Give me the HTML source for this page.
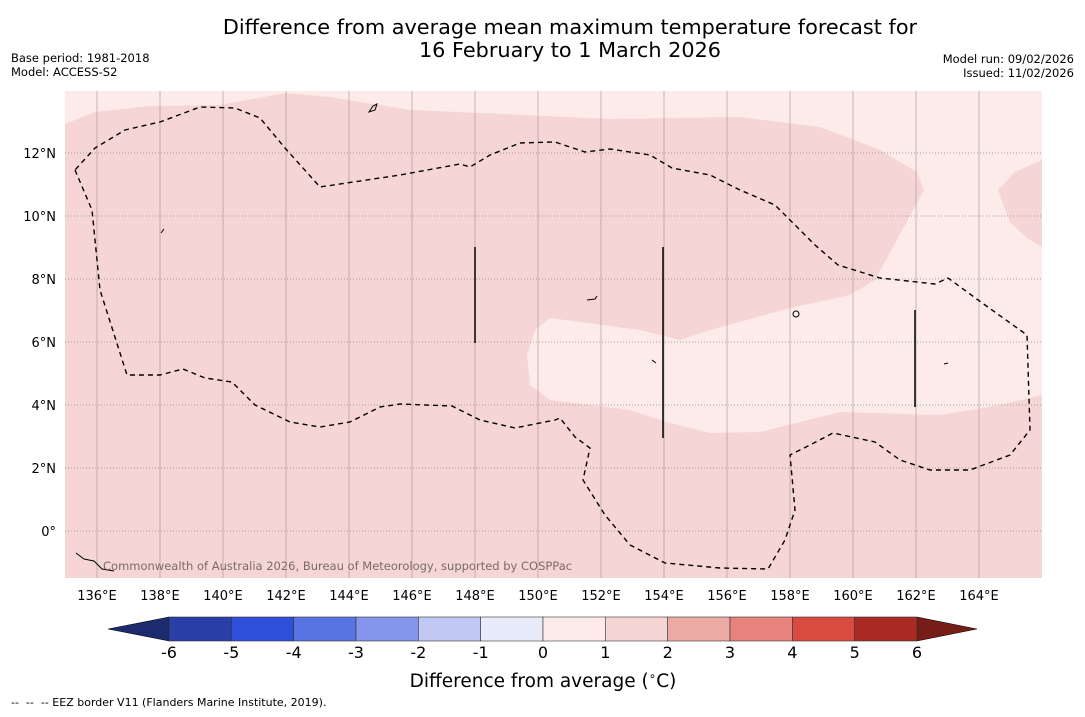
<!DOCTYPE html>
<html><head><meta charset="utf-8"><style>
body{margin:0;background:#fff;width:1085px;height:713px;overflow:hidden;font-family:"DejaVu Sans","Liberation Sans",sans-serif}
</style></head><body>
<svg id="chart" width="1085" height="713" xmlns="http://www.w3.org/2000/svg" font-family="DejaVu Sans, Liberation Sans, sans-serif">
<text x="570" y="34" font-size="20.8" text-anchor="middle">Difference from average mean maximum temperature forecast for</text>
<text x="570" y="57" font-size="20.8" text-anchor="middle">16 February to 1 March 2026</text>
<text x="11" y="62" font-size="11.5">Base period: 1981-2018</text>
<text x="11" y="76" font-size="11.5">Model: ACCESS-S2</text>
<text x="1074" y="63" font-size="11.5" text-anchor="end">Model run: 09/02/2026</text>
<text x="1074" y="77" font-size="11.5" text-anchor="end">Issued: 11/02/2026</text>
<g id="map">
<rect x="65" y="91" width="977" height="487" fill="#f5d6d4"/>
<path fill="#fcebe9" d="M65,124 L95,112 150,106 220,105 285,93 330,97 410,110 480,113 610,119 740,117 820,127 880,150 917,172 924,190 905,225 875,280 850,295 790,308 710,330 680,340 640,330 550,318 535,330 527,355 530,385 550,400 630,410 670,423 710,433 760,432 840,412 940,415 1000,405 1042,395 1042,247 1027,238 1010,222 998,190 1015,172 1042,160 1042,91 65,91Z"/>
<g id="grid"></g>
<path fill="none" stroke="#000" stroke-width="1.4" stroke-dasharray="5,4" d="M75,170 L92,210 100,290 127,375 160,375 183,369 205,378 232,382 255,405 290,422 320,427 350,422 380,407 400,404 452,406 480,420 515,428 555,420 560,418 575,437 590,448 583,480 605,515 630,545 665,563 720,568 768,569 785,540 795,510 790,455 810,445 833,433 875,442 900,460 930,470 970,470 1010,455 1030,430 1027,335 985,305 948,278 935,284 880,278 838,265 815,245 795,225 775,205 740,190 710,175 672,168 650,155 610,149 585,152 555,142 520,143 490,155 470,167 460,164 400,175 320,187 285,148 260,118 235,108 200,107 160,122 125,130 95,148 75,170"/>
<g stroke="#000" stroke-width="1.5">
<line x1="475" y1="247" x2="475" y2="343"/><line x1="663" y1="247" x2="663" y2="438"/><line x1="915" y1="310" x2="915" y2="407"/>
</g>
<g fill="none" stroke="#000" stroke-width="1">
<path d="M369,112 l4,-6 4,-2 -2,6z"/><path d="M161,233 l3,-4"/><path d="M587,300 l8,-1 2,-3"/><path d="M793,314 a3,3 0 1,0 6,0 a3,3 0 1,0 -6,0"/><path d="M944,364 l4,-1"/><path d="M76,553 l8,6 10,2 8,8 12,2"/><path d="M652,360 l4,3"/>
</g>
<text x="103" y="570" font-size="11.5" fill="#7a6a6a">Commonwealth of Australia 2026, Bureau of Meteorology, supported by COSPPac</text>
</g>
<g id="axes"></g>
<g id="colorbar"></g>
<text x="543" y="687" font-size="18.5" text-anchor="middle">Difference from average (<tspan font-size="12" dy="-7">∘</tspan><tspan dy="7">C)</tspan></text>
<text x="11" y="706" font-size="11" xml:space="preserve">--  --  -- EEZ border V11 (Flanders Marine Institute, 2019).</text>
</svg>
<script>
const lonTicks=[136,138,140,142,144,146,148,150,152,154,156,158,160,162,164];
const latTicks=[12,10,8,6,4,2,0];
const levels=[-6,-5,-4,-3,-2,-1,0,1,2,3,4,5,6];
const levelColors=["#2a3ea8","#2d4fdc","#5873e2","#8495eb","#c0c8f3","#e8ebfa","#fcebe9","#f5d6d4","#edaaa5","#e6837c","#d94b40","#a82a22"];
const NS="http://www.w3.org/2000/svg";
const xLon=l=>65.5+(l-135)*31.5, yLat=l=>531-l*31.5;
function mk(t,a,p){const e=document.createElementNS(NS,t);for(const k in a)e.setAttribute(k,a[k]);p.appendChild(e);return e;}
const grid=document.getElementById('grid'),axes=document.getElementById('axes'),cb=document.getElementById('colorbar');
lonTicks.forEach(l=>{const x=xLon(l);
 const g=mk('line',{x1:x,x2:x,y1:91,y2:578,stroke:'#a09090',"stroke-width":0.6},grid);
 
 const t=mk('text',{x:x,y:600,"font-size":13,"text-anchor":"middle"},axes);t.textContent=l+'°E';
 });
latTicks.forEach(l=>{const y=yLat(l);
 const g=mk('line',{x1:65,x2:1042,y1:y,y2:y,stroke:'#888',"stroke-width":0.7,"stroke-dasharray":"1,2"},grid);
 
 const t=mk('text',{x:56,y:y+5,"font-size":13,"text-anchor":"end"},axes);t.textContent=l===0?'0°':l+'°N';
 });
const cx0=169,cx1=917,cy=617,ch=24,step=(cx1-cx0)/(levels.length-1);
const cX=v=>cx0+(v-levels[0])*step;
const la=mk('path',{d:`M${cx0},${cy} L108,${cy+ch/2} L${cx0},${cy+ch}Z`,fill:'#1c2a6e',stroke:'#000',"stroke-width":0.5},cb);

const ra=mk('path',{d:`M${cx1},${cy} L977,${cy+ch/2} L${cx1},${cy+ch}Z`,fill:'#761d18',stroke:'#000',"stroke-width":0.5},cb);

levelColors.forEach((c,i)=>{const r=mk('rect',{x:cX(levels[i]),y:cy,width:step,height:ch,fill:c,stroke:'#333',"stroke-width":0.6},cb);
 });
levels.forEach(v=>{const t=mk('text',{x:cX(v),y:658,"font-size":16,"text-anchor":"middle"},cb);t.textContent=v;
 });
</script>
</body></html>
